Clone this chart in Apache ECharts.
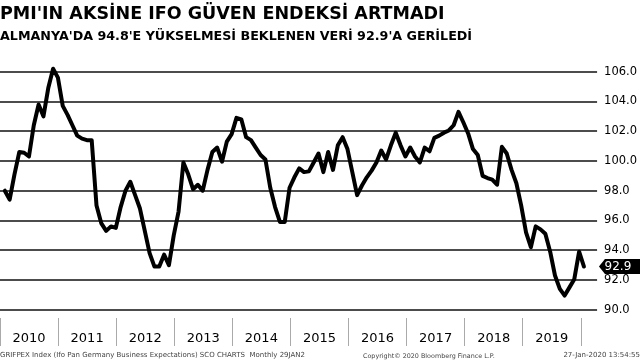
<!DOCTYPE html>
<html>
<head>
<meta charset="utf-8">
<script src="https://cdn.jsdelivr.net/npm/echarts@6/dist/echarts.min.js"></script>
<style>
html,body{margin:0;padding:0;background:#fff;}
#c{width:640px;height:360px;}
</style>
</head>
<body>
<div id="c"></div>
<script>
// ---- data ----
var titleText = "PMI'IN AKSİNE IFO GÜVEN ENDEKSİ ARTMADI";
var subtitleText = "ALMANYA'DA 94.8'E YÜKSELMESİ BEKLENEN VERİ 92.9'A GERİLEDİ";
var footerLeft = "GRIFPEX Index (Ifo Pan Germany Business Expectations) SCO CHARTS  Monthly 29JAN2";
var footerMid = "Copyright© 2020 Bloomberg Finance L.P.";
var footerRight = "27-Jan-2020 13:54:55";

var years = ['2010','2011','2012','2013','2014','2015','2016','2017','2018','2019'];
// monthly values, Jan 2010 .. Jan 2020
var values2010 = [98.0, 97.4, 99.1, 100.6, 100.55, 100.3, 102.4, 103.8, 103.0, 104.9, 106.2, 105.6];
var values2011 = [103.7, 103.1, 102.4, 101.7, 101.5, 101.4, 101.4, 97.0, 95.8, 95.3, 95.6, 95.5];
var values2012 = [96.9, 98.0, 98.6, 97.7, 96.8, 95.3, 93.8, 92.9, 92.9, 93.7, 93.0, 95.0];
var values2013 = [96.6, 99.9, 99.1, 98.1, 98.4, 98.0, 99.4, 100.6, 100.9, 99.95, 101.3, 101.8];
var values2014 = [102.9, 102.8, 101.6, 101.4, 100.9, 100.4, 100.1, 98.2, 96.9, 95.9, 95.9, 98.2];
var values2015 = [98.9, 99.5, 99.25, 99.3, 99.9, 100.5, 99.25, 100.6, 99.4, 101.05, 101.6, 100.8];
var values2016 = [99.25, 97.7, 98.35, 98.9, 99.35, 99.9, 100.7, 100.1, 101.05, 101.9, 101.05, 100.3];
var values2017 = [100.9, 100.3, 99.9, 100.9, 100.65, 101.55, 101.7, 101.9, 102.05, 102.4, 103.3, 102.6];
var values2018 = [101.85, 100.8, 100.4, 99.0, 98.85, 98.75, 98.4, 100.95, 100.5, 99.4, 98.5, 97.0];
var values2019 = [95.2, 94.2, 95.6, 95.4, 95.1, 93.9, 92.3, 91.4, 90.95, 91.5, 92.05, 93.9];
var values2020 = [92.9];

var yMin = 90, yMax = 106, yStep = 2;

var values = [].concat(values2010, values2011, values2012, values2013, values2014,
  values2015, values2016, values2017, values2018, values2019, values2020);

// month-end positions (months since start of 2010)
var lineData = values.map(function (v, i) { return [i + 1, v]; });
var last = lineData[lineData.length - 1];

var chart = echarts.init(document.getElementById('c'), null, {renderer: 'canvas'});
var monthPx = 4.886;
var gridLeft = -5.5;
var plotRight = 599;

var option = {
  backgroundColor: '#fff',
  animation: false,
  title: [
    {text: titleText, left: 0, top: 5, padding: 0,
     textStyle: {fontFamily: 'DejaVu Sans', fontWeight: 'bold', fontSize: 17.5, color: '#000'}},
    {text: subtitleText, left: 0, top: 30, padding: 0,
     textStyle: {fontFamily: 'DejaVu Sans', fontWeight: 'bold', fontSize: 12.7, color: '#000'}},
    {text: footerLeft, left: 0, bottom: 1, padding: 0,
     textStyle: {fontFamily: 'DejaVu Sans', fontWeight: 'normal', fontSize: 7, color: '#444'}},
    {text: footerMid, left: 363, bottom: 1, padding: 0,
     textStyle: {fontFamily: 'DejaVu Sans', fontWeight: 'normal', fontSize: 6.4, color: '#444'}},
    {text: footerRight, right: 0, bottom: 1, padding: 0,
     textStyle: {fontFamily: 'DejaVu Sans', fontWeight: 'normal', fontSize: 7, color: '#444'}}
  ],
  grid: [
    {left: gridLeft, right: 640 - plotRight, top: 71.7, bottom: 50.3},
    {left: gridLeft, width: years.length * 12 * monthPx, top: 317, height: 1}
  ],
  xAxis: [
    {type: 'value', gridIndex: 0, min: 0, max: (plotRight - gridLeft) / monthPx,
     axisLine: {show: false}, axisTick: {show: false}, axisLabel: {show: false}, splitLine: {show: false}},
    {type: 'category', gridIndex: 1, data: years, boundaryGap: true, position: 'bottom',
     axisLine: {show: false},
     axisTick: {show: true, length: 28, lineStyle: {color: '#aaa', width: 1}},
     axisLabel: {margin: 14, fontFamily: 'DejaVu Sans', fontSize: 13, color: '#000'}}
  ],
  yAxis: [
    {type: 'value', gridIndex: 0, position: 'right', min: yMin, max: yMax, interval: yStep,
     axisLine: {show: false}, axisTick: {show: false},
     splitLine: {show: true, lineStyle: {color: '#111', width: 1.6}},
     axisLabel: {margin: 7, fontFamily: 'DejaVu Sans', fontSize: 11.5, color: '#000',
       formatter: function (v) { return v.toFixed(1); }}},
    {type: 'value', gridIndex: 1, show: false}
  ],
  series: [{
    type: 'line', xAxisIndex: 0, yAxisIndex: 0, data: lineData,
    showSymbol: false, symbol: 'none', clip: false,
    lineStyle: {color: '#000', width: 4, join: 'round', cap: 'round'},
    markPoint: {
      symbol: 'path://M0,7 L6,0 L42,0 L42,14 L6,14 Z',
      symbolSize: [42, 15],
      symbolKeepAspect: false,
      symbolOffset: [36, 0],
      itemStyle: {color: '#000'},
      label: {show: true, color: '#fff', fontFamily: 'DejaVu Sans', fontSize: 12, offset: [-2, 0],
        formatter: function (p) { return p.value.toFixed(1); }},
      data: [{coord: last, value: last[1]}]
    }
  }]
};
chart.setOption(option);
</script>
</body>
</html>
